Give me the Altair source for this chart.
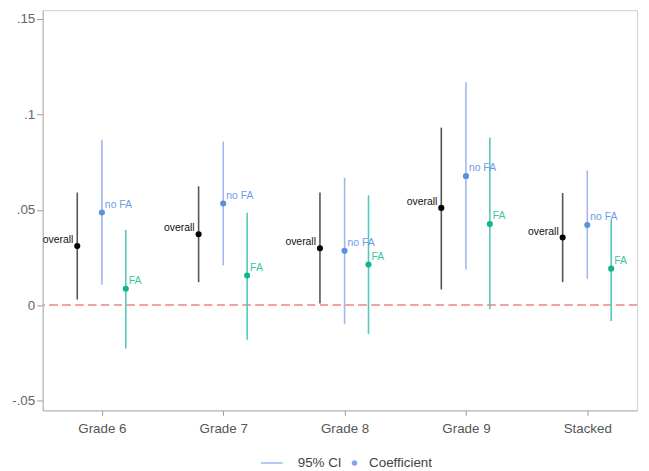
import altair as alt
import pandas as pd

categories = ["Grade 6", "Grade 7", "Grade 8", "Grade 9", "Stacked"]
groups = ["overall", "no FA", "FA"]

overall_coef = [0.0310, 0.0372, 0.0299, 0.0510, 0.0355]
overall_lo = [0.0030, 0.0121, 0.0009, 0.0083, 0.0121]
overall_hi = [0.0590, 0.0623, 0.0590, 0.0930, 0.0588]

nofa_coef = [0.0486, 0.0533, 0.0285, 0.0676, 0.0420]
nofa_lo = [0.0108, 0.0209, -0.0099, 0.0187, 0.0138]
nofa_hi = [0.0866, 0.0857, 0.0668, 0.1167, 0.0705]

fa_coef = [0.0087, 0.0156, 0.0213, 0.0425, 0.0192]
fa_lo = [-0.0226, -0.0180, -0.0151, -0.0021, -0.0082]
fa_hi = [0.0394, 0.0485, 0.0576, 0.0879, 0.0446]

offsets = {"overall": -0.203, "no FA": 0.0, "FA": 0.197}

rows = []
for i, cat in enumerate(categories):
    for g, c, lo, hi in [
        ("overall", overall_coef, overall_lo, overall_hi),
        ("no FA", nofa_coef, nofa_lo, nofa_hi),
        ("FA", fa_coef, fa_lo, fa_hi),
    ]:
        rows.append({"cat": cat, "group": g, "xpos": i + 1 + offsets[g],
                     "coef": c[i], "lo": lo[i], "hi": hi[i],
                     "gci": g, "gpt": g, "glab": g})
df = pd.DataFrame(rows)

legend_items = ["95% CI", "Coefficient"]
legend_df = pd.DataFrame({"leg": legend_items, "xpos": [1.0, 1.0], "coef": [0.5, 0.5]})

ci_colors = ["#555555", "#a3b6ee", "#52cabb"]
pt_colors = ["#000000", "#5b8fe2", "#12b48f"]
lab_colors = ["#111111", "#6b9de8", "#3ec4a4"]

FONT = "Liberation Sans"

xscale = alt.Scale(domain=[0.512, 5.41], nice=False, zero=False)
yscale = alt.Scale(domain=[-0.055, 0.1545], nice=False, zero=False)

xenc = alt.X("xpos:Q", scale=xscale, axis=alt.Axis(
    values=[1, 2, 3, 4, 5],
    labelExpr="['Grade 6','Grade 7','Grade 8','Grade 9','Stacked'][round(datum.value)-1]",
    title=None, grid=False, domainColor="#b5b5b5", tickColor="#999999",
    tickSize=5, labelPadding=6, labelFont=FONT, labelFontSize=13.5,
    labelColor="#555555", labelFlush=False))
yaxis = alt.Axis(values=[-0.05, 0, 0.05, 0.1, 0.15],
                 labelExpr="replace(replace(format(datum.value, '.2~f'), '0.', '.'), '\u2212', '-')",
                 title=None, grid=False, domainColor="#b5b5b5", tickColor="#999999",
                 tickSize=6, labelPadding=2, labelFont=FONT, labelFontSize=13.5,
                 labelColor="#666666")

base = alt.Chart(df)

zero_line = alt.Chart(df).mark_rule(color="#f2a2a2", strokeDash=[8, 5], strokeWidth=1).encode(
    y=alt.datum(0, scale=yscale, axis=yaxis))

ci = base.mark_rule(strokeWidth=1.6).encode(
    x=xenc,
    y=alt.Y("lo:Q", scale=yscale, axis=yaxis),
    y2="hi:Q",
    color=alt.Color("gci:N", scale=alt.Scale(domain=groups, range=ci_colors), legend=None))

pts = base.mark_circle(size=38, opacity=1).encode(
    x=xenc,
    y=alt.Y("coef:Q", scale=yscale, axis=yaxis),
    fill=alt.Fill("gpt:N", scale=alt.Scale(domain=groups, range=pt_colors), legend=None))

lab_overall = base.transform_filter(alt.datum.group == "overall").mark_text(
    align="right", baseline="middle", dx=-4, dy=-6, font=FONT, fontSize=10.5, color="#111111").encode(
    x=xenc, y=alt.Y("coef:Q", scale=yscale, axis=yaxis), text="glab:N")

lab_other = base.transform_filter(alt.datum.group != "overall").mark_text(
    align="left", baseline="middle", dx=3, dy=-8, font=FONT, fontSize=10.5).encode(
    x=xenc, y=alt.Y("coef:Q", scale=yscale, axis=yaxis), text="glab:N",
    color=alt.Color("glab:N", scale=alt.Scale(domain=groups, range=lab_colors), legend=None))

leg = alt.Chart(legend_df).mark_point(filled=True, clip=True, color="#7fa6ea").encode(
    x=xenc, y=alt.Y("coef:Q", scale=yscale, axis=yaxis),
    shape=alt.Shape("leg:N", scale=alt.Scale(domain=legend_items,
                                             range=["M-8.2,-0.22H-0.2V0.22H-8.2Z", "circle"]),
                    legend=alt.Legend(title=None, orient="none", direction="horizontal",
                                      legendX=236, legendY=450, symbolSize=30,
                                      symbolStrokeWidth=0, symbolFillColor="#7fa6ea",
                                      symbolOpacity=1,
                                      labelOffset=8, columnPadding=6, padding=0,
                                      labelFont=FONT, labelFontSize=13.5,
                                      labelColor="#444444")))

chart = alt.layer(zero_line, ci, pts, lab_overall, lab_other, leg).resolve_scale(
    color="independent", fill="independent").properties(
    width=600, height=404,
    padding={"left": 35, "top": 0, "right": 4, "bottom": 57},
    autosize=alt.AutoSizeParams(type="none"),
).configure_view(stroke="#d0d0d0", strokeWidth=1)

chart.save("out.html", embed_options={"renderer": "svg", "actions": False})
